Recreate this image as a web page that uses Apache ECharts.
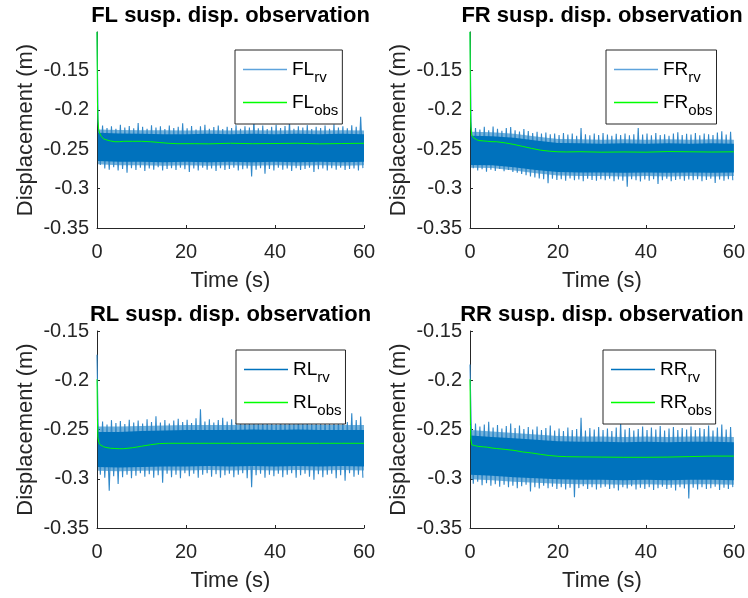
<!DOCTYPE html>
<html><head><meta charset="utf-8">
<script src="https://cdn.jsdelivr.net/npm/echarts@6/dist/echarts.min.js"></script>
<style>html,body{margin:0;padding:0;background:#fff}#c{width:748px;height:598px}</style>
</head><body><div id="c"></div>
<script>
// ---------------- data ----------------
const xTicks = [0, 20, 40, 60];
const yTicks = [-0.35, -0.3, -0.25, -0.2, -0.15];
const titles = ['FL susp. disp. observation', 'FR susp. disp. observation', 'RL susp. disp. observation', 'RR susp. disp. observation'];
const keys = ['FL', 'FR', 'RL', 'RR'];

// observer output (green line)
const obsTime = [0, 0.1, 0.2, 0.4, 0.7, 1, 1.5, 2, 3, 4, 5, 6, 8, 10, 12, 14, 16, 18, 20, 22, 25, 30, 35, 40, 45, 50, 55, 60];
const FL_obs = [-0.101, -0.190, -0.212, -0.226, -0.231, -0.234, -0.237, -0.238, -0.2395, -0.2405, -0.2405, -0.2400, -0.2400, -0.2400, -0.2405, -0.2415, -0.2425, -0.2430, -0.2430, -0.2430, -0.2432, -0.2425, -0.2430, -0.2428, -0.2425, -0.2432, -0.2428, -0.2425];
const FR_obs = [-0.101, -0.200, -0.222, -0.232, -0.235, -0.2365, -0.238, -0.239, -0.2395, -0.2400, -0.2405, -0.2405, -0.2420, -0.2440, -0.2465, -0.2490, -0.2512, -0.2525, -0.2533, -0.2535, -0.2532, -0.2538, -0.2535, -0.2538, -0.2530, -0.2533, -0.2536, -0.2533];
const RL_obs = [-0.199, -0.240, -0.258, -0.263, -0.2655, -0.2665, -0.2675, -0.2682, -0.2690, -0.2693, -0.2695, -0.2695, -0.2685, -0.2670, -0.2655, -0.2643, -0.2640, -0.2640, -0.2640, -0.2640, -0.2640, -0.2640, -0.2640, -0.2640, -0.2640, -0.2640, -0.2640, -0.2640];
const RR_obs = [-0.199, -0.245, -0.260, -0.2655, -0.2660, -0.2663, -0.2668, -0.2672, -0.2676, -0.2680, -0.2688, -0.2693, -0.2702, -0.2712, -0.2728, -0.2738, -0.2752, -0.2764, -0.2772, -0.2776, -0.2778, -0.2780, -0.2782, -0.2782, -0.2780, -0.2775, -0.2770, -0.2770];

// raw measurement (blue): value at t = 0, then per-second spike tops / bottoms
const FL_rvStart = -0.101;
const FL_rvHi = [-0.2150, -0.2200, -0.2230, -0.2210, -0.2240, -0.2190, -0.2225, -0.2205, -0.2235, -0.2168, -0.2215, -0.2240, -0.2195, -0.2225, -0.2210, -0.2245, -0.2200, -0.2230, -0.2215, -0.2170, -0.2235, -0.2205, -0.2250, -0.2210, -0.2190, -0.2240, -0.2220, -0.2200, -0.2245, -0.2215, -0.2230, -0.2195, -0.2240, -0.2210, -0.2225, -0.2126, -0.2235, -0.2200, -0.2245, -0.2215, -0.2190, -0.2230, -0.2205, -0.2150, -0.2240, -0.2210, -0.2225, -0.2195, -0.2245, -0.2215, -0.2230, -0.2200, -0.2240, -0.2185, -0.2225, -0.2210, -0.2235, -0.2195, -0.2215, -0.2088];
const FL_rvLo = [-0.2700, -0.2745, -0.2760, -0.2730, -0.2770, -0.2750, -0.2800, -0.2740, -0.2765, -0.2735, -0.2775, -0.2745, -0.2760, -0.2730, -0.2770, -0.2750, -0.2740, -0.2765, -0.2735, -0.2755, -0.2790, -0.2745, -0.2770, -0.2735, -0.2760, -0.2745, -0.2775, -0.2740, -0.2765, -0.2750, -0.2735, -0.2770, -0.2755, -0.2745, -0.2847, -0.2760, -0.2740, -0.2810, -0.2750, -0.2770, -0.2735, -0.2760, -0.2745, -0.2775, -0.2740, -0.2765, -0.2750, -0.2735, -0.2790, -0.2755, -0.2745, -0.2770, -0.2740, -0.2760, -0.2735, -0.2765, -0.2750, -0.2745, -0.2770, -0.2740];
const FR_rvStart = -0.101;
const FR_rvHi = [-0.2150, -0.2230, -0.2250, -0.2215, -0.2260, -0.2211, -0.2240, -0.2265, -0.2230, -0.2220, -0.2260, -0.2275, -0.2245, -0.2270, -0.2295, -0.2280, -0.2300, -0.2290, -0.2310, -0.2300, -0.2320, -0.2295, -0.2315, -0.2300, -0.2330, -0.2232, -0.2310, -0.2325, -0.2300, -0.2320, -0.2295, -0.2315, -0.2330, -0.2305, -0.2320, -0.2300, -0.2325, -0.2310, -0.2232, -0.2315, -0.2300, -0.2325, -0.2295, -0.2320, -0.2310, -0.2330, -0.2300, -0.2285, -0.2320, -0.2305, -0.2315, -0.2295, -0.2325, -0.2300, -0.2310, -0.2320, -0.2290, -0.2274, -0.2315, -0.2280];
const FR_rvLo = [-0.2740, -0.2770, -0.2755, -0.2785, -0.2760, -0.2775, -0.2750, -0.2780, -0.2765, -0.2790, -0.2800, -0.2815, -0.2830, -0.2845, -0.2860, -0.2870, -0.2880, -0.2931, -0.2875, -0.2890, -0.2880, -0.2900, -0.2870, -0.2895, -0.2885, -0.2905, -0.2875, -0.2890, -0.2900, -0.2880, -0.2895, -0.2875, -0.2905, -0.2885, -0.2900, -0.2975, -0.2880, -0.2895, -0.2910, -0.2885, -0.2900, -0.2880, -0.2940, -0.2895, -0.2875, -0.2905, -0.2890, -0.2880, -0.2900, -0.2885, -0.2895, -0.2880, -0.2905, -0.2890, -0.2875, -0.2930, -0.2885, -0.2900, -0.2880, -0.2895];
const RL_rvStart = -0.174;
const RL_rvHi = [-0.2440, -0.2420, -0.2450, -0.2405, -0.2435, -0.2415, -0.2445, -0.2400, -0.2430, -0.2410, -0.2440, -0.2395, -0.2425, -0.2365, -0.2430, -0.2405, -0.2440, -0.2410, -0.2390, -0.2425, -0.2400, -0.2435, -0.2385, -0.2295, -0.2420, -0.2395, -0.2430, -0.2405, -0.2380, -0.2420, -0.2395, -0.2430, -0.2405, -0.2385, -0.2425, -0.2400, -0.2435, -0.2390, -0.2415, -0.2400, -0.2430, -0.2353, -0.2410, -0.2395, -0.2425, -0.2385, -0.2415, -0.2400, -0.2430, -0.2390, -0.2420, -0.2395, -0.2430, -0.2380, -0.2410, -0.2400, -0.2425, -0.2336, -0.2405, -0.2367];
const RL_rvLo = [-0.2960, -0.2990, -0.3121, -0.2975, -0.3053, -0.2985, -0.2960, -0.2995, -0.2970, -0.2945, -0.2980, -0.2955, -0.2990, -0.2965, -0.3040, -0.2950, -0.2985, -0.2960, -0.2995, -0.2945, -0.2975, -0.2950, -0.2990, -0.2960, -0.2945, -0.2980, -0.2955, -0.2990, -0.2965, -0.2950, -0.2985, -0.2960, -0.2945, -0.2995, -0.3087, -0.2965, -0.2950, -0.2990, -0.2960, -0.2975, -0.2950, -0.2985, -0.2960, -0.2945, -0.2990, -0.2965, -0.2950, -0.2980, -0.3010, -0.2955, -0.2985, -0.2960, -0.2950, -0.2995, -0.2965, -0.3019, -0.2945, -0.2980, -0.2960, -0.2990];
const RR_rvStart = -0.184;
const RR_rvHi = [-0.2410, -0.2440, -0.2470, -0.2450, -0.2421, -0.2480, -0.2455, -0.2490, -0.2465, -0.2440, -0.2485, -0.2460, -0.2495, -0.2475, -0.2500, -0.2470, -0.2505, -0.2485, -0.2460, -0.2510, -0.2490, -0.2515, -0.2480, -0.2505, -0.2495, -0.2380, -0.2510, -0.2485, -0.2500, -0.2475, -0.2505, -0.2490, -0.2515, -0.2480, -0.2421, -0.2500, -0.2485, -0.2510, -0.2495, -0.2470, -0.2505, -0.2480, -0.2500, -0.2465, -0.2510, -0.2490, -0.2475, -0.2505, -0.2485, -0.2500, -0.2470, -0.2505, -0.2485, -0.2495, -0.2460, -0.2510, -0.2480, -0.2450, -0.2500, -0.2475];
const RR_rvLo = [-0.3050, -0.3030, -0.3065, -0.3045, -0.3070, -0.3055, -0.3080, -0.3060, -0.3085, -0.3070, -0.3095, -0.3075, -0.3060, -0.3130, -0.3085, -0.3100, -0.3070, -0.3095, -0.3080, -0.3105, -0.3085, -0.3110, -0.3090, -0.3188, -0.3095, -0.3075, -0.3105, -0.3085, -0.3110, -0.3090, -0.3080, -0.3105, -0.3095, -0.3120, -0.3085, -0.3100, -0.3075, -0.3110, -0.3090, -0.3105, -0.3085, -0.3115, -0.3095, -0.3080, -0.3105, -0.3090, -0.3120, -0.3085, -0.3100, -0.3200, -0.3090, -0.3110, -0.3085, -0.3105, -0.3095, -0.3080, -0.3115, -0.3090, -0.3105, -0.3085];

// dense core of the measurement band, and the looser outer band around it
const coreTime = [0.2, 5, 10, 15, 20, 25, 30, 35, 40, 45, 50, 55, 60];
const FL_coreHi = [-0.2290, -0.2300, -0.2305, -0.2310, -0.2310, -0.2305, -0.2310, -0.2305, -0.2310, -0.2305, -0.2310, -0.2305, -0.2310];
const FL_coreLo = [-0.2650, -0.2660, -0.2660, -0.2665, -0.2660, -0.2665, -0.2660, -0.2665, -0.2660, -0.2665, -0.2660, -0.2665, -0.2660];
const FR_coreHi = [-0.2330, -0.2335, -0.2355, -0.2390, -0.2420, -0.2425, -0.2430, -0.2425, -0.2430, -0.2425, -0.2430, -0.2425, -0.2430];
const FR_coreLo = [-0.2700, -0.2705, -0.2730, -0.2765, -0.2790, -0.2795, -0.2795, -0.2800, -0.2795, -0.2800, -0.2795, -0.2800, -0.2795];
const RL_coreHi = [-0.2525, -0.2525, -0.2515, -0.2510, -0.2505, -0.2505, -0.2505, -0.2500, -0.2505, -0.2500, -0.2505, -0.2505, -0.2505];
const RL_coreLo = [-0.2880, -0.2885, -0.2880, -0.2875, -0.2875, -0.2870, -0.2875, -0.2870, -0.2875, -0.2870, -0.2875, -0.2870, -0.2875];
const RR_coreHi = [-0.2560, -0.2575, -0.2590, -0.2605, -0.2620, -0.2625, -0.2625, -0.2630, -0.2625, -0.2630, -0.2625, -0.2625, -0.2630];
const RR_coreLo = [-0.2960, -0.2970, -0.2985, -0.2995, -0.3005, -0.3010, -0.3010, -0.3015, -0.3010, -0.3015, -0.3010, -0.3010, -0.3015];
const FL_outerHi = [-0.2250, -0.2255, -0.2260, -0.2260, -0.2262, -0.2260, -0.2262, -0.2260, -0.2262, -0.2260, -0.2262, -0.2260, -0.2262];
const FL_outerLo = [-0.2690, -0.2705, -0.2705, -0.2710, -0.2705, -0.2710, -0.2705, -0.2710, -0.2705, -0.2710, -0.2705, -0.2710, -0.2705];
const FR_outerHi = [-0.2280, -0.2285, -0.2305, -0.2340, -0.2370, -0.2375, -0.2380, -0.2375, -0.2380, -0.2375, -0.2380, -0.2375, -0.2380];
const FR_outerLo = [-0.2735, -0.2740, -0.2770, -0.2805, -0.2835, -0.2840, -0.2840, -0.2845, -0.2840, -0.2845, -0.2840, -0.2845, -0.2840];
const RL_outerHi = [-0.2470, -0.2470, -0.2465, -0.2460, -0.2455, -0.2455, -0.2455, -0.2450, -0.2455, -0.2450, -0.2455, -0.2455, -0.2455];
const RL_outerLo = [-0.2920, -0.2925, -0.2920, -0.2915, -0.2915, -0.2910, -0.2915, -0.2910, -0.2915, -0.2910, -0.2915, -0.2910, -0.2915];
const RR_outerHi = [-0.2505, -0.2520, -0.2535, -0.2550, -0.2565, -0.2570, -0.2570, -0.2575, -0.2570, -0.2575, -0.2570, -0.2570, -0.2575];
const RR_outerLo = [-0.3005, -0.3015, -0.3030, -0.3040, -0.3050, -0.3055, -0.3055, -0.3060, -0.3055, -0.3060, -0.3055, -0.3055, -0.3060];

// ---------------- build ----------------
const FONT = 'Liberation Sans';
const AX = '#262626';
const panels = [
  {obs: FL_obs, start: FL_rvStart, hi: FL_rvHi, lo: FL_rvLo, cHi: FL_coreHi, cLo: FL_coreLo, oHi: FL_outerHi, oLo: FL_outerLo, yMax: -0.1013,
   grid: {left: 97, top: 32, width: 267, height: 196}, leg: {left: 235, top: 50}, rvLeg: '#5ea3dc'},
  {obs: FR_obs, start: FR_rvStart, hi: FR_rvHi, lo: FR_rvLo, cHi: FR_coreHi, cLo: FR_coreLo, oHi: FR_outerHi, oLo: FR_outerLo, yMax: -0.1013,
   grid: {left: 470, top: 32, width: 264, height: 196}, leg: {left: 606, top: 50}, rvLeg: '#5ea3dc'},
  {obs: RL_obs, start: RL_rvStart, hi: RL_rvHi, lo: RL_rvLo, cHi: RL_coreHi, cLo: RL_coreLo, oHi: RL_outerHi, oLo: RL_outerLo, yMax: -0.15,
   grid: {left: 97, top: 331, width: 267, height: 197}, leg: {left: 236, top: 350}, rvLeg: '#0072BD'},
  {obs: RR_obs, start: RR_rvStart, hi: RR_rvHi, lo: RR_rvLo, cHi: RR_coreHi, cLo: RR_coreLo, oHi: RR_outerHi, oLo: RR_outerLo, yMax: -0.15,
   grid: {left: 470, top: 331, width: 264, height: 197}, leg: {left: 603, top: 350}, rvLeg: '#0072BD'}
];

function bandSeries(name, i, hiArr, loArr, fill, z) {
  return {
    name: name, type: 'custom', xAxisIndex: i, yAxisIndex: i, clip: true, silent: true, z: z,
    data: [[coreTime[0], hiArr[0]]],
    renderItem: (params, api) => {
      const pts = [];
      coreTime.forEach((t, j) => pts.push(api.coord([t, hiArr[j]])));
      for (let j = coreTime.length - 1; j >= 0; j--) pts.push(api.coord([coreTime[j], loArr[j]]));
      return {type: 'polygon', shape: {points: pts}, style: {fill: fill}};
    }
  };
}

const option = {animation: false, backgroundColor: '#fff', title: [], grid: [], xAxis: [], yAxis: [], legend: [], series: []};

panels.forEach((p, i) => {
  const k = keys[i];
  option.grid.push(p.grid);
  option.title.push({
    text: titles[i], left: p.grid.left + p.grid.width / 2, top: p.grid.top - 27, textAlign: 'center', padding: 0,
    textStyle: {fontFamily: FONT, fontSize: 22, fontWeight: 'bold', color: '#000'}
  });
  option.xAxis.push({
    type: 'value', gridIndex: i, min: 0, max: 60, interval: 20,
    name: 'Time (s)', nameLocation: 'middle', nameGap: 42,
    nameTextStyle: {fontFamily: FONT, fontSize: 22, color: AX},
    axisLine: {lineStyle: {color: AX, width: 1}},
    axisTick: {inside: true, length: 3, lineStyle: {color: AX}, customValues: xTicks},
    axisLabel: {fontFamily: FONT, fontSize: 20, color: AX, margin: 14, customValues: xTicks},
    splitLine: {show: false}
  });
  option.yAxis.push({
    type: 'value', gridIndex: i, min: -0.35, max: p.yMax,
    name: 'Displacement (m)', nameLocation: 'middle', nameGap: 60,
    nameTextStyle: {fontFamily: FONT, fontSize: 22, color: AX},
    axisLine: {show: true, onZero: false, lineStyle: {color: AX, width: 1}},
    axisTick: {show: true, inside: true, length: 3, lineStyle: {color: AX}, customValues: yTicks},
    axisLabel: {fontFamily: FONT, fontSize: 20, color: AX, margin: 8, customValues: yTicks,
      formatter: v => String(+v.toFixed(2))},
    splitLine: {show: false}
  });
  option.series.push(bandSeries(k + 'outer', i, p.oHi, p.oLo, 'rgba(0,114,189,0.55)', 1));
  // raw measurement: spikes between per-second tops and bottoms
  const zig = [[0, p.start]];
  p.hi.forEach((h, j) => { zig.push([j + 0.25, h]); zig.push([j + 0.75, p.lo[j]]); });
  option.series.push({
    name: k + 'rv', type: 'line', xAxisIndex: i, yAxisIndex: i, data: zig, symbol: 'none',
    color: '#0072BD', lineStyle: {color: '#3088c9', width: 1.1}, z: 2
  });
  option.series.push(bandSeries(k + 'core', i, p.cHi, p.cLo, '#0072BD', 3));
  option.series.push({
    name: k + 'obs', type: 'line', xAxisIndex: i, yAxisIndex: i, data: obsTime.map((t, j) => [t, p.obs[j]]),
    symbol: 'none', color: '#00ff00', lineStyle: {color: '#00ff00', width: 1}, z: 5
  });
  option.legend.push({
    orient: 'vertical', left: p.leg.left, top: p.leg.top, padding: [10, 4, 6, 8], itemGap: 8,
    itemWidth: 44, itemHeight: 1.5, icon: 'rect', borderColor: AX, borderWidth: 1, backgroundColor: '#fff',
    selectedMode: false,
    data: [
      {name: k + 'rv', itemStyle: {color: p.rvLeg}},
      {name: k + 'obs', itemStyle: {color: '#00ff00'}}
    ],
    formatter: n => '{a|' + k + '}{b|' + n.slice(2) + '}',
    textStyle: {
      rich: {
        a: {fontFamily: FONT, fontSize: 19, color: '#000'},
        b: {fontFamily: FONT, fontSize: 15, color: '#000', padding: [16, 0, 0, 0]}
      }
    }
  });
});

const chart = echarts.init(document.getElementById('c'), null, {renderer: 'canvas'});
chart.setOption(option);
</script>
</body></html>
